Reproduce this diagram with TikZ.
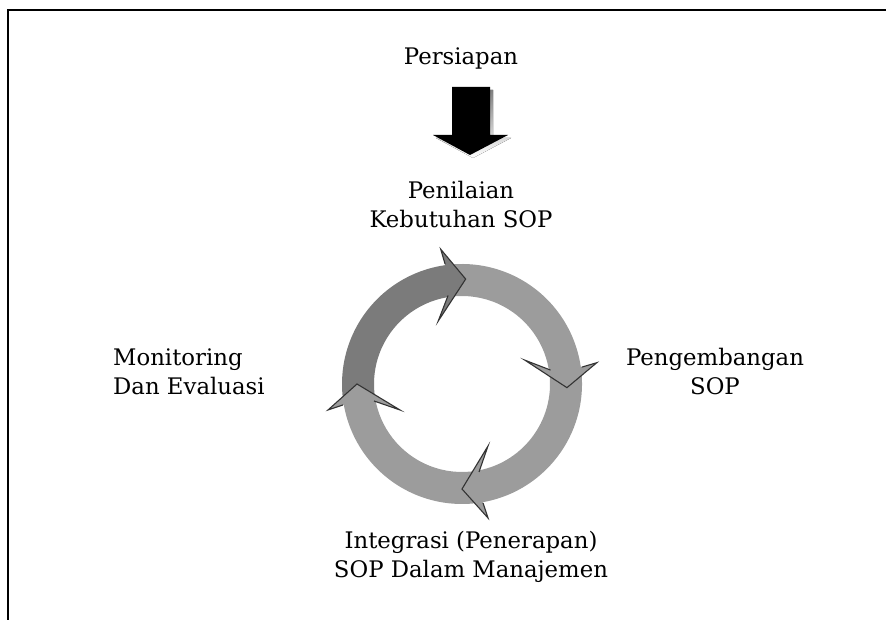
\documentclass[tikz,border=0pt]{standalone}
\usepackage{fontspec}
\setmainfont{DejaVu Serif}
\usetikzlibrary{calc}
\definecolor{segdark}{HTML}{7B7B7B}
\definecolor{seglight}{HTML}{9C9C9C}
\definecolor{shade}{HTML}{9AA7BA}

\begin{document}
\begin{tikzpicture}[x=1pt, y=1pt,
	every node/.style={font=\fontsize{22.8}{29}\selectfont, align=center, anchor=base, inner sep=0pt},
	barb/.style={draw=black!80, line width=1.1pt, line join=miter}
	]
	\useasboundingbox (0,0) rectangle (886,620);
	\draw[line width=1.3pt] (886,610) -- (8,610) -- (8,0);

	\node (prep) at (461,555) {Persiapan};
	\node (need) at (461,392) {Penilaian\\Kebutuhan SOP};
	\node (dev) at (715,225) {Pengembangan\\SOP};
	\node (integ) at (471,42) {Integrasi (Penerapan)\\SOP Dalam Manajemen};
	\node[align=left, anchor=base west] (eval) at (113,225) {Monitoring\\Dan Evaluasi};

	% block arrow
	\coordinate (tip) at (470,465);
	\fill[shade] ($(tip)+(3,-3)$) -- ++(38,20) -- ++(-18,0) -- ++(0,48) -- ++(-38,0) -- ++(0,-48) -- ++(-19,0) -- cycle;
	\fill[black] (tip) -- ++(38,20) -- ++(-18,0) -- ++(0,48) -- ++(-38,0) -- ++(0,-48) -- ++(-19,0) -- cycle;

	% cycle
	\coordinate (ring) at (462,236);
	\foreach \a/\b/\c in {189/88/segdark, 97/-2/seglight, 7/-90/seglight, -81/-180/seglight}
		\fill[\c] ($(ring)+(\a:120)$) arc[start angle=\a, end angle=\b+8, radius=120]
			-- ($(ring)+(\b+8:88)$) arc[start angle=\b+8, end angle=\a, radius=88] -- cycle;
	\foreach \b/\c in {88/segdark, -2/seglight, -90/seglight, -180/seglight} {
		\fill[\c] ($(ring)+(\b:119)+(\b+90:21)$) -- ($(ring)+(\b:134)+(\b+90:26)$) -- ($(ring)+(\b:105)$)
			-- ($(ring)+(\b:62)+(\b+90:26)$) -- ($(ring)+(\b:88)+(\b+90:17)$) -- cycle;
		\draw[barb] ($(ring)+(\b:119)+(\b+90:21)$) -- ($(ring)+(\b:134)+(\b+90:26)$) -- ($(ring)+(\b:105)$)
			-- ($(ring)+(\b:62)+(\b+90:26)$) -- ($(ring)+(\b:88)+(\b+90:17)$);
	}
\end{tikzpicture}
\end{document}
